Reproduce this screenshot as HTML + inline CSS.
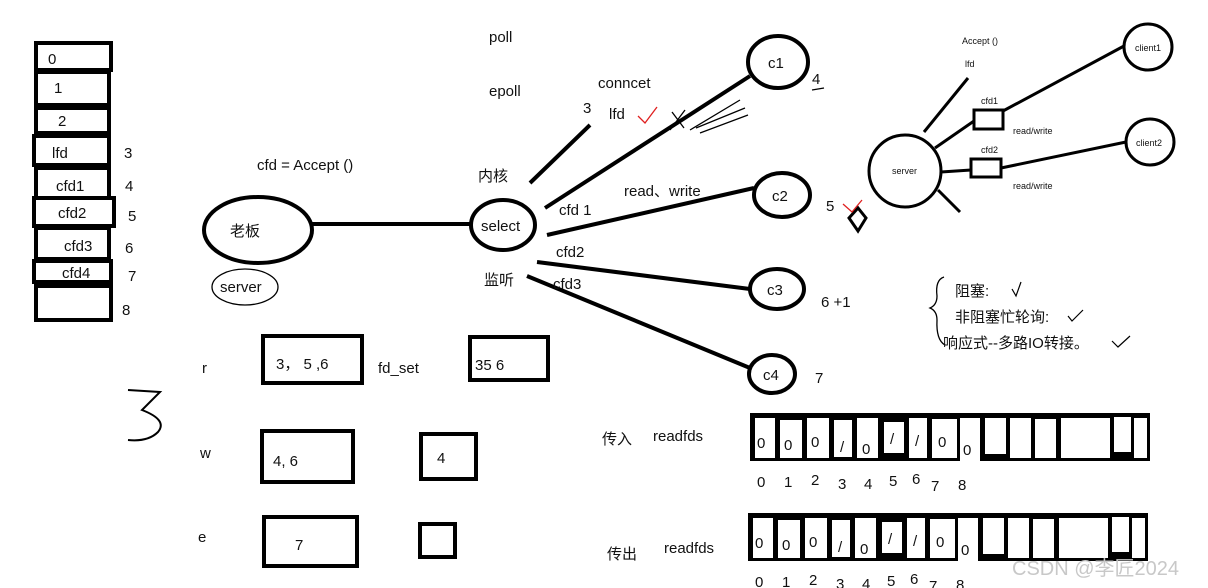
<!DOCTYPE html><html><head><meta charset="utf-8"><style>body{margin:0;background:#fff}svg{display:block}text{font-family:"Liberation Sans","Noto Sans CJK SC",sans-serif;font-size:15px;fill:#111}text.s{font-size:9px}text.w{font-size:20px;fill:#c8c8c8}</style></head><body>
<svg width="1208" height="588" viewBox="0 0 1208 588" xmlns="http://www.w3.org/2000/svg">
<g fill="none" stroke="#000" stroke-width="4">
<rect x="36" y="43" width="75" height="27"/><rect x="36" y="72" width="73" height="33"/><rect x="36" y="108" width="73" height="25"/>
<rect x="34" y="136" width="75" height="29"/><rect x="36" y="168" width="73" height="30"/><rect x="34" y="198" width="80" height="28"/>
<rect x="36" y="228" width="73" height="31"/><rect x="34" y="261" width="77" height="21"/><rect x="36" y="286" width="75" height="34"/>
<ellipse cx="258" cy="230" rx="54" ry="33"/><ellipse cx="503" cy="225" rx="32" ry="25"/>
<ellipse cx="778" cy="62" rx="30" ry="26"/><ellipse cx="782" cy="195" rx="28" ry="22"/><ellipse cx="777" cy="289" rx="27" ry="20"/><ellipse cx="772" cy="374" rx="23" ry="19"/>
<line x1="312" y1="224" x2="472" y2="224"/><line x1="545" y1="208" x2="750" y2="76"/><line x1="547" y1="235" x2="754" y2="188"/>
<line x1="537" y1="262" x2="750" y2="289"/><line x1="527" y1="276" x2="750" y2="368"/><line x1="530" y1="183" x2="590" y2="125"/>
<path d="M849 218 L858 208 L866 218 L858 231 Z" stroke-width="3"/>
<rect x="263" y="336" width="99" height="47"/><rect x="470" y="337" width="78" height="43"/>
<rect x="262" y="431" width="91" height="51"/><rect x="421" y="434" width="55" height="45"/>
<rect x="264" y="517" width="93" height="49"/><rect x="420" y="524" width="35" height="33"/>
<ellipse cx="905" cy="171" rx="36" ry="36" stroke-width="3"/><ellipse cx="1148" cy="47" rx="24" ry="23" stroke-width="3"/><ellipse cx="1150" cy="142" rx="24" ry="23" stroke-width="3"/>
<rect x="974" y="110" width="29" height="19" stroke-width="3"/><rect x="971" y="159" width="30" height="18" stroke-width="3"/>
<g stroke-width="3"><line x1="924" y1="132" x2="968" y2="78"/><line x1="935" y1="148" x2="974" y2="121"/><line x1="1003" y1="111" x2="1124" y2="46"/>
<line x1="941" y1="172" x2="971" y2="170"/><line x1="1001" y1="168" x2="1126" y2="142"/><line x1="938" y1="190" x2="960" y2="212"/></g>
</g>
<g fill="none" stroke="#000" stroke-width="1.3">
<ellipse cx="245" cy="287" rx="33" ry="18"/>
<path d="M944 277 Q935 280 937 296 Q937 305 930 308 Q937 311 937 320 Q936 340 945 345"/>
<path d="M670 130 L685 110 M672 112 L684 128 M690 130 L740 100 M696 128 L745 108 M700 133 L748 115"/>
<path d="M128 390 L160 392 Q150 402 142 410 Q168 420 158 432 Q148 442 128 440" stroke-width="2"/>
<path d="M812 90 L824 88"/>
</g>
<g stroke="#e02020" fill="none" stroke-width="1.3"><path d="M638 116 L645 123 L657 107"/><path d="M843 204 L852 212 L862 200"/></g>
<g stroke="#000" fill="none" stroke-width="1.2"><path d="M1012 289 L1016 296 L1021 282"/><path d="M1068 316 L1072 321 L1083 310"/><path d="M1112 341 L1118 347 L1130 336"/></g>
<text x="48" y="64">0</text><text x="54" y="93">1</text><text x="58" y="126">2</text><text x="52" y="158">lfd</text><text x="56" y="191">cfd1</text><text x="58" y="218">cfd2</text><text x="64" y="251">cfd3</text><text x="62" y="278">cfd4</text>
<text x="124" y="158">3</text><text x="125" y="191">4</text><text x="128" y="221">5</text><text x="125" y="253">6</text><text x="128" y="281">7</text><text x="122" y="315">8</text>
<text x="230" y="236">老板</text><text x="220" y="292">server</text><text x="257" y="170">cfd =  Accept  ()</text>
<text x="489" y="42">poll</text><text x="489" y="96">epoll</text><text x="598" y="88">conncet</text><text x="609" y="119">lfd</text><text x="583" y="113">3</text>
<text x="478" y="181">内核</text><text x="481" y="231">select</text><text x="624" y="196">read、write</text><text x="559" y="215">cfd 1</text><text x="556" y="257">cfd2</text><text x="484" y="285">监听</text><text x="553" y="289">cfd3</text>
<text x="768" y="68">c1</text><text x="772" y="201">c2</text><text x="767" y="295">c3</text><text x="763" y="380">c4</text>
<text x="812" y="84">4</text><text x="826" y="211">5</text><text x="821" y="307">6  +1</text><text x="815" y="383">7</text>
<text x="955" y="296">阻塞:</text><text x="955" y="322">非阻塞忙轮询:</text><text x="943" y="348">响应式--多路IO转接。</text>
<text class="s" x="962" y="44">Accept  ()</text><text class="s" x="965" y="67">lfd</text><text class="s" x="981" y="104">cfd1</text><text class="s" x="981" y="153">cfd2</text><text class="s" x="1013" y="134">read/write</text><text class="s" x="1013" y="189">read/write</text><text class="s" x="892" y="174">server</text><text class="s" x="1135" y="51">client1</text><text class="s" x="1136" y="146">client2</text>
<text x="202" y="373">r</text><text x="276" y="369">3，  5  ,6</text><text x="378" y="373">fd_set</text><text x="475" y="370">35    6</text>
<text x="200" y="458">w</text><text x="273" y="466">4,   6</text><text x="437" y="463">4</text><text x="198" y="542">e</text><text x="295" y="550">7</text>
<text x="602" y="444">传入</text><text x="653" y="441">readfds</text><text x="607" y="559">传出</text><text x="664" y="553">readfds</text>
<g id="arr">
<rect x="750" y="413" width="400" height="48" fill="#000"/>
<g fill="#fff"><rect x="755" y="418" width="20" height="40"/><rect x="780" y="420" width="22" height="38"/><rect x="807" y="418" width="22" height="40"/><rect x="834" y="420" width="18" height="37"/><rect x="857" y="418" width="21" height="40"/><rect x="884" y="422" width="20" height="31"/><rect x="909" y="418" width="18" height="40"/><rect x="932" y="419" width="25" height="39"/><rect x="960" y="418" width="20" height="43"/><rect x="985" y="418" width="21" height="36"/><rect x="1010" y="418" width="21" height="40"/><rect x="1035" y="419" width="21" height="39"/><rect x="1061" y="418" width="49" height="40"/><rect x="1114" y="417" width="17" height="35"/><rect x="1134" y="418" width="13" height="40"/></g>
<text x="757" y="448">0</text><text x="784" y="450">0</text><text x="811" y="447">0</text><text x="840" y="452">/</text><text x="862" y="454">0</text><text x="890" y="444">/</text><text x="915" y="446">/</text><text x="938" y="447">0</text><text x="963" y="455">0</text>
<text x="757" y="487">0</text><text x="784" y="487">1</text><text x="811" y="485">2</text><text x="838" y="489">3</text><text x="864" y="489">4</text><text x="889" y="486">5</text><text x="912" y="484">6</text><text x="931" y="491">7</text><text x="958" y="490">8</text>
</g>
<use href="#arr" transform="translate(-2,100)"/>
<text class="w" x="1012" y="575">CSDN @李匠2024</text>
</svg></body></html>
